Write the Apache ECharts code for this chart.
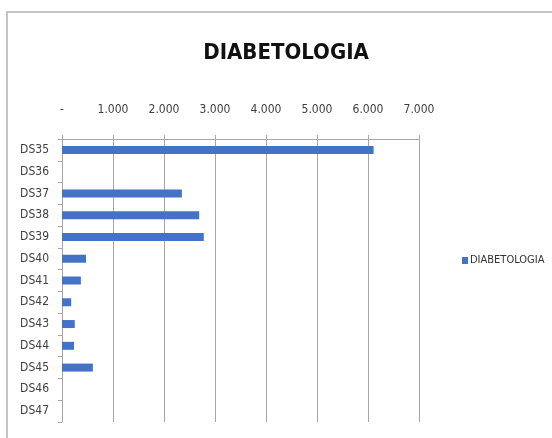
<!DOCTYPE html>
<html>
<head>
<meta charset="utf-8">
<script src="https://cdn.jsdelivr.net/npm/echarts@6/dist/echarts.min.js"></script>
<style>
html,body{margin:0;padding:0;background:#fff;}
#chart{width:552px;height:438px;}
</style>
</head>
<body>
<div id="chart"></div>
<script>
var categories = ['DS35','DS36','DS37','DS38','DS39','DS40','DS41','DS42','DS43','DS44','DS45','DS46','DS47'];
var values = [6110, 0, 2350, 2690, 2780, 470, 370, 180, 250, 235, 605, 0, 0];
var seriesName = 'DIABETOLOGIA';
var titleText = 'DIABETOLOGIA';

var FONT = '"Liberation Sans Narrow", "DejaVu Sans Condensed", "Liberation Sans", sans-serif';
var chart = echarts.init(document.getElementById('chart'), null, {renderer: 'canvas'});
chart.setOption({
  backgroundColor: '#ffffff',
  animation: false,
  graphic: [{
    type: 'rect',
    shape: {x: 7, y: 12, width: 600, height: 500},
    style: {fill: 'none', stroke: '#c4c4c4', lineWidth: 2},
    silent: true
  }],
  title: {
    text: titleText,
    left: 281,
    top: 37,
    textAlign: 'center',
    textStyle: {fontFamily: FONT, fontWeight: 'bold', fontSize: 22, color: '#111111'}
  },
  legend: {
    data: [seriesName],
    left: 457,
    top: 250,
    icon: 'rect',
    itemWidth: 6,
    itemHeight: 7,
    itemGap: 4,
    textStyle: {fontFamily: FONT, fontSize: 11, color: '#333333', padding: [0,0,0,-3]}
  },
  grid: {left: 62, top: 139, width: 357, height: 283, containLabel: false},
  xAxis: {
    type: 'value',
    position: 'top',
    min: 0,
    max: 7000,
    interval: 1000,
    axisLine: {show: true, lineStyle: {color: '#a6a6a6', width: 1}},
    axisTick: {show: true, length: 4, lineStyle: {color: '#a6a6a6'}},
    splitLine: {show: true, lineStyle: {color: '#a6a6a6', width: 1}},
    axisLabel: {
      margin: 23,
      fontFamily: FONT,
      fontSize: 12,
      color: '#404040',
      formatter: function (v) {
        if (v === 0) return '-';
        return (v / 1000).toFixed(0) + '.000';
      }
    }
  },
  yAxis: {
    type: 'category',
    inverse: true,
    data: categories,
    axisLine: {show: true, lineStyle: {color: '#a6a6a6', width: 1}},
    axisTick: {show: true, length: 4, alignWithLabel: false, lineStyle: {color: '#a6a6a6'}},
    splitLine: {show: false},
    axisLabel: {margin: 13, fontFamily: FONT, fontSize: 12, color: '#404040'}
  },
  series: [{
    name: seriesName,
    type: 'bar',
    data: values,
    barWidth: 8,
    itemStyle: {color: '#4472c4'}
  }]
});
</script>
</body>
</html>
